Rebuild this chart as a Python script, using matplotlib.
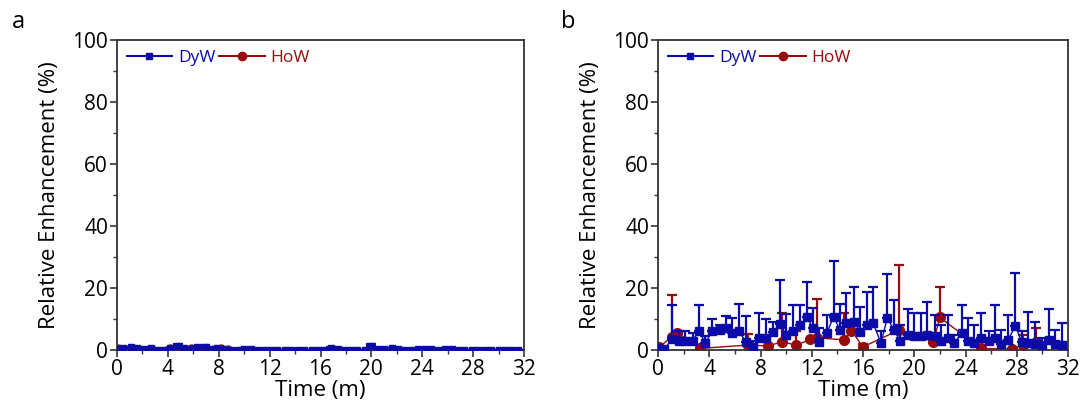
import matplotlib
matplotlib.use("Agg")
import matplotlib.pyplot as plt
from matplotlib.ticker import MultipleLocator
from matplotlib.lines import Line2D
import numpy as np

plt.rcParams['font.family'] = ['Open Sans', 'DejaVu Sans']

BLUE = '#0B0BA8'
RED = '#960C0C'

# ---------------- data ----------------
dy_t = [0.0, 0.5, 1.1, 1.6, 2.1, 2.7, 3.2, 3.7, 4.2, 4.8, 5.3, 5.8, 6.3, 6.9, 7.4,
        7.9, 8.4, 9.0, 9.5, 10.0, 10.5, 11.1, 11.6, 12.1, 12.6, 13.2, 13.7, 14.2,
        14.7, 15.3, 15.8, 16.3, 16.8, 17.4, 17.9, 18.4, 18.9, 19.5, 20.0, 20.5,
        21.0, 21.6, 22.1, 22.6, 23.1, 23.7, 24.2, 24.7, 25.2, 25.8, 26.3, 26.8,
        27.3, 27.9, 28.4, 28.9, 29.4, 30.0, 30.5, 31.0, 31.5]

# panel b (DyW)
b_dy_val = [0.5, 0.3, 3.5, 3.0, 3.0, 3.0, 6.1, 2.2, 6.0, 6.5, 7.2, 5.5, 6.0, 2.5, 1.0,
            3.8, 4.0, 5.8, 8.4, 5.0, 6.0, 8.0, 10.5, 7.2, 2.5, 5.6, 10.8, 6.5,
            8.6, 9.0, 5.9, 8.0, 8.6, 2.2, 10.4, 6.5, 3.0, 5.0, 4.5, 4.5,
            5.0, 4.5, 3.0, 3.8, 2.2, 5.4, 2.8, 2.2, 3.8, 2.8, 3.8, 2.0,
            3.2, 7.7, 2.5, 2.2, 2.0, 1.5, 3.2, 2.0, 1.5]
b_dy_err = [0.0, 0.0, 11.0, 3.0, 3.0, 2.5, 8.4, 2.3, 4.0, 1.5, 3.8, 4.9, 9.0, 8.5, 2.0,
            8.2, 6.0, 3.2, 14.2, 6.6, 8.5, 6.5, 11.5, 6.3, 4.5, 5.7, 18.0, 8.3,
            9.8, 11.4, 8.1, 10.8, 11.8, 3.8, 14.0, 9.5, 5.0, 8.2, 7.5, 7.5,
            10.5, 6.8, 5.0, 7.5, 2.8, 9.1, 7.4, 5.8, 8.2, 3.2, 10.7, 4.5,
            8.1, 17.3, 3.5, 10.1, 7.0, 2.5, 10.0, 4.5, 7.1]

# panel b (HoW)
b_ho_t = [0.1, 1.1, 1.5, 3.3, 7.0, 8.6, 9.7, 10.8, 11.9, 12.4, 14.5, 15.1, 16.0,
          18.8, 21.5, 22.0, 25.2, 27.6, 28.5, 29.5]
b_ho_val = [1.0, 4.3, 5.5, 0.5, 1.6, 1.3, 2.7, 1.5, 3.5, 3.9, 3.3, 6.2, 1.0,
            6.4, 2.7, 10.5, 0.5, 0.3, 1.6, 2.7]
b_ho_err = [0.0, 13.4, 0.5, 0.0, 3.6, 0.0, 9.3, 4.7, 0.0, 12.6, 8.7, 1.8, 1.0,
            21.0, 0.0, 9.9, 0.0, 0.0, 3.2, 4.3]

# panel a (DyW)
a_dy_val = [0.2, 0.8, 0.9, 0.8, 0.2, 0.6, 0.0, 0.1, 0.5, 1.2, 0.6, 0.4, 0.9, 1.1, 0.3,
            0.8, 0.3, 0.1, 0.1, 0.4, 0.3, 0.1, 0.0, 0.0, 0.0, 0.0, 0.0, 0.0,
            0.0, 0.0, 0.0, 0.0, 0.6, 0.2, 0.0, 0.0, 0.0, 0.0, 1.2, 0.2,
            0.4, 0.5, 0.2, 0.0, 0.0, 0.2, 0.4, 0.2, 0.0, 0.2, 0.3, 0.0,
            0.0, 0.0, 0.0, 0.0, 0.0, 0.0, 0.0, 0.0, 0.0]
a_dy_err = [0.0, 0.3, 0.2, 0.2, 0.0, 0.2, 0.0, 0.0, 0.3, 0.6, 0.2, 0.1, 0.3, 0.4, 0.0,
            0.2, 0.1, 0.0, 0.0, 0.1, 0.1, 0.0, 0.0, 0.0, 0.0, 0.0, 0.0, 0.0,
            0.0, 0.0, 0.0, 0.0, 0.3, 0.0, 0.0, 0.0, 0.0, 0.0, 0.8, 0.0,
            0.1, 0.1, 0.0, 0.0, 0.0, 0.0, 0.1, 0.0, 0.0, 0.0, 0.0, 0.0,
            0.0, 0.0, 0.0, 0.0, 0.0, 0.0, 0.0, 0.0, 0.0]

# panel a (HoW)
a_ho_t = [0.1, 4.2, 4.8, 5.3, 5.8, 6.5, 7.0, 8.2, 8.7]
a_ho_val = [0.8, 0.5, 0.4, 0.3, 0.5, 0.4, 0.7, 0.6, 0.3]
a_ho_err = [0.0, 0.1, 0.1, 0.0, 0.1, 0.1, 0.2, 0.1, 0.0]

series_labels = ['DyW', 'HoW']
x_ticks = [0, 4, 8, 12, 16, 20, 24, 28, 32]
y_ticks = [0, 20, 40, 60, 80, 100]

# ---------------- figure ----------------
fig = plt.figure(figsize=(10.89, 4.19), dpi=100)
W, H = 1089, 419
ax_a = fig.add_axes([117 / W, 1 - 350 / H, 407 / W, 310 / H])
ax_b = fig.add_axes([658 / W, 1 - 350 / H, 410 / W, 310 / H])


def draw(ax, dt, dv, de, ht, hv, he, ms_sq, ms_ci):
    dv = np.array(dv); de = np.array(de)
    hv = np.array(hv); he = np.array(he)
    ax.errorbar(dt, dv, yerr=[np.zeros_like(de), de], color=BLUE, marker='s',
                markersize=ms_sq, lw=1.0, elinewidth=1.6, capsize=3.5, capthick=1.6,
                zorder=3)
    ax.errorbar(ht, hv, yerr=[np.zeros_like(he), he], color=RED, marker='o',
                markersize=ms_ci, lw=1.0, elinewidth=1.6, capsize=3.5, capthick=1.6,
                zorder=2)
    ax.set_xlim(0, 32)
    ax.set_ylim(0, 100)
    ax.set_xticks(x_ticks)
    ax.set_yticks(y_ticks)
    ax.xaxis.set_minor_locator(MultipleLocator(2))
    ax.yaxis.set_minor_locator(MultipleLocator(10))
    ax.tick_params(which='major', direction='out', length=5, width=1.2,
                   labelsize=15, color='#333333', labelcolor='black', pad=1.5)
    ax.tick_params(which='minor', direction='out', length=3, width=1.0, color='#333333')
    for s in ax.spines.values():
        s.set_linewidth(1.3)
        s.set_color('#333333')
    ax.set_xlabel('Time (m)', fontsize=16, labelpad=0)
    ax.set_ylabel('Relative Enhancement (%)', fontsize=16, labelpad=9)
    handles = [Line2D([], [], color=BLUE, marker='s', markersize=5, lw=1.5),
               Line2D([], [], color=RED, marker='o', markersize=6, lw=1.5)]
    leg = ax.legend(handles, series_labels, loc='upper left', ncol=2, frameon=False,
                    fontsize=12.5, handlelength=2.6, handletextpad=0.35,
                    columnspacing=0.25, borderaxespad=0.15,
                    bbox_to_anchor=(0.0, 1.0))
    for txt, c in zip(leg.get_texts(), [BLUE, RED]):
        txt.set_color(c)


draw(ax_a, dy_t, a_dy_val, a_dy_err, a_ho_t, a_ho_val, a_ho_err, 5, 5)
draw(ax_b, dy_t, b_dy_val, b_dy_err, b_ho_t, b_ho_val, b_ho_err, 6, 7)

fig.text(12 / W, 1 - 22 / H, 'a', fontsize=17, va='center', ha='left')
fig.text(561 / W, 1 - 22 / H, 'b', fontsize=17, va='center', ha='left')

fig.savefig('out.png', dpi=100)
